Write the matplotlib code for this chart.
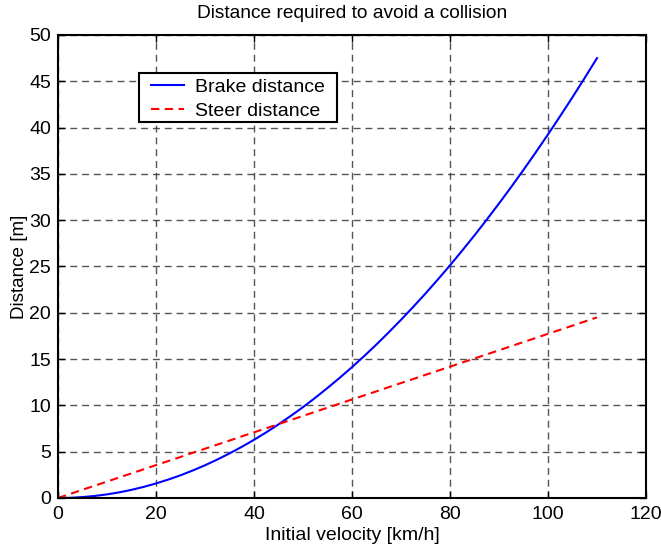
import matplotlib
matplotlib.use("Agg")
import matplotlib.pyplot as plt
from matplotlib.patches import Rectangle

plt.rcParams['font.family'] = ['Liberation Sans', 'DejaVu Sans']

velocity = [0, 2.5, 5, 7.5, 10, 12.5, 15, 17.5, 20, 22.5, 25, 27.5, 30, 32.5, 35, 37.5, 40, 42.5, 45,
            47.5, 50, 52.5, 55, 57.5, 60, 62.5, 65, 67.5, 70, 72.5, 75, 77.5, 80, 82.5, 85, 87.5, 90,
            92.5, 95, 97.5, 100, 102.5, 105, 107.5, 110]
brake = [0, 0.02, 0.10, 0.22, 0.39, 0.61, 0.88, 1.20, 1.57, 1.99, 2.45, 2.97, 3.53, 4.15, 4.81, 5.52,
         6.28, 7.09, 7.95, 8.86, 9.81, 10.82, 11.88, 12.98, 14.13, 15.33, 16.58, 17.89, 19.24, 20.64,
         22.08, 23.58, 25.12, 26.72, 28.36, 30.06, 31.80, 33.59, 35.43, 37.32, 39.26, 41.25, 43.28,
         45.37, 47.50]
steer = [0, 0.44, 0.89, 1.33, 1.77, 2.22, 2.66, 3.10, 3.55, 3.99, 4.43, 4.88, 5.32, 5.76, 6.20, 6.65,
         7.09, 7.53, 7.98, 8.42, 8.86, 9.31, 9.75, 10.19, 10.64, 11.08, 11.52, 11.97, 12.41, 12.85,
         13.30, 13.74, 14.18, 14.63, 15.07, 15.51, 15.95, 16.40, 16.84, 17.28, 17.73, 18.17, 18.61,
         19.06, 19.50]
xticks = [0, 20, 40, 60, 80, 100, 120]
yticks = [0, 5, 10, 15, 20, 25, 30, 35, 40, 45, 50]

fs = 14
fig = plt.figure(figsize=(6.61, 5.49), dpi=100)
ax = fig.add_axes([0.0877, 0.0929, 0.8896, 0.8434])
ax.plot(velocity, brake, color='#0000ff', lw=1.5, label='Brake distance')
ax.plot(velocity, steer, color='#ff0000', lw=1.5, ls=(0, (4, 2.6)), label='Steer distance')
ax.set_xlim(0, 120)
ax.set_ylim(0, 50)
ax.set_xticks(xticks)
ax.set_yticks(yticks)
ax.grid(True, color='#2a2a2a', ls=(0, (5, 3.5)), lw=1.0, alpha=0.8)
ax.tick_params(direction='in', top=True, right=True, length=5, width=1, labelsize=fs)
ax.tick_params(axis='x', pad=6)
ax.tick_params(axis='y', pad=5)
for s in ax.spines.values():
    s.set_linewidth(1.5)
ax.set_xlabel('Initial velocity [km/h]', fontsize=fs, labelpad=3)
ax.set_ylabel('Distance [m]', fontsize=13.6, labelpad=1)
ax.set_title('Distance required to avoid a collision', fontsize=13.8, pad=12)

# legend frame
ax.add_patch(Rectangle((0.1378, 0.812), 0.3367, 0.106, transform=ax.transAxes,
                       facecolor='white', edgecolor='black', lw=1.5, zorder=4))
leg = ax.legend(loc='upper left', bbox_to_anchor=(0.158, 0.906), fontsize=fs,
                frameon=False, borderpad=0, labelspacing=0.3, handlelength=1.7,
                handletextpad=0.55, borderaxespad=0)
leg.set_zorder(5)
fig.savefig('out.png', dpi=100)
